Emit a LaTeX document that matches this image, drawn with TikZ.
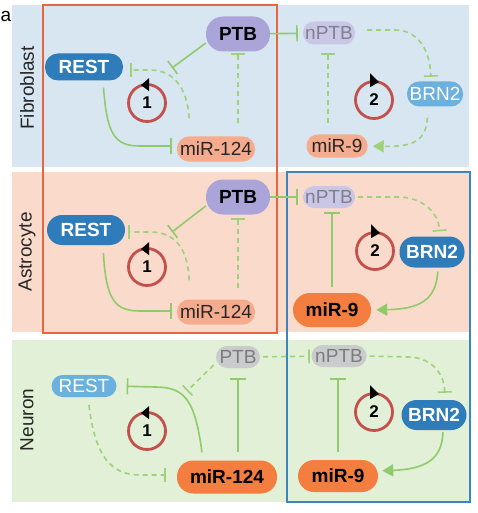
\documentclass[tikz,border=0pt]{standalone}
\usepackage{fontspec}
\setmainfont{Liberation Sans}
\usetikzlibrary{arrows.meta,calc}
\definecolor{bgBlue}{HTML}{D7E6F1}
\definecolor{bgPeach}{HTML}{FADACB}
\definecolor{bgGreen}{HTML}{E1F0D6}
\definecolor{lineGreen}{HTML}{8FCB6B}
\definecolor{dashGreen}{HTML}{9ED27A}
\definecolor{cDarkBlue}{HTML}{2E7DBA}
\definecolor{cLightBlue}{HTML}{6CB0DE}
\definecolor{cPurple}{HTML}{ABA4D9}
\definecolor{cLPurple}{HTML}{CAC6E6}
\definecolor{cSalmon}{HTML}{F5AC8E}
\definecolor{cOrange}{HTML}{F47D40}
\definecolor{cGray}{HTML}{C9CBCD}
\definecolor{cGrayText}{HTML}{807F90}
\definecolor{cGrayText2}{HTML}{7C7C7C}
\definecolor{cRed}{HTML}{C4504B}
\definecolor{orangeRect}{HTML}{E8663F}
\definecolor{blueRect}{HTML}{3D86BD}
\newcommand\genefont{\fontsize{19}{22}\selectfont}
\begin{document}
\begin{tikzpicture}[x=1pt,y=-1pt,
  gene/.style={rectangle, inner sep=0pt},
  sz/.style n args={3}{minimum width=#1pt, minimum height=#2pt, rounded corners=#3pt},
  darkB/.style={gene, fill=cDarkBlue, text=white, font=\genefont\bfseries},
  lightB/.style={gene, fill=cLightBlue, text=white, font=\genefont},
  purp/.style={gene, fill=cPurple, text=black, font=\genefont\bfseries},
  lpurp/.style={gene, fill=cLPurple, text=cGrayText, font=\genefont},
  salm/.style={gene, fill=cSalmon, text=black!85, font=\genefont},
  oran/.style={gene, fill=cOrange, text=black, font=\genefont\bfseries},
  grayn/.style={gene, fill=cGray, text=cGrayText2, font=\genefont},
  rowlab/.style={rotate=90, font=\fontsize{19}{22}\selectfont, text=black!85},
  cyc/.style={circle, draw=cRed, line width=2.8pt, minimum size=37pt, inner sep=0pt, font=\fontsize{17}{20}\selectfont\bfseries},
  inh/.style={draw=lineGreen, line width=1.6pt, -{Bar[width=16pt]}},
  dinh/.style={draw=dashGreen, line width=1.6pt, dash pattern=on 5pt off 4pt, -{Bar[width=14pt]}},
  act/.style={draw=lineGreen, line width=1.6pt, -{Triangle[length=11pt,width=12pt]}},
  dact/.style={draw=dashGreen, line width=1.6pt, dash pattern=on 5pt off 4pt, -{Triangle[length=11pt,width=12pt]}},
  tip/.style={fill=black}
]
\useasboundingbox (0,0) rectangle (477,513);
\fill[white] (0,0) rectangle (477,513);
% backgrounds
\fill[bgBlue] (12,5) rectangle (469,167);
\fill[bgPeach] (12,172) rectangle (469,332);
\fill[bgGreen] (12,340) rectangle (469,502);
\draw[orangeRect, line width=1.5pt] (43,5) rectangle (277,333);
\draw[blueRect, line width=1.5pt] (287,172) rectangle (470,502);
% labels
\node[font=\fontsize{19}{22}\selectfont, anchor=base west, inner sep=0pt] (pa) at (0.5,22) {a};
\node[rowlab] (lab1) at (27,88) {Fibroblast};
\node[rowlab] (lab2) at (27,252) {Astrocyte};
\node[rowlab] (lab3) at (27,420) {Neuron};

% ---------- Row 1: Fibroblast ----------
\node[darkB, sz={78}{27}{13}] (rest1) at (84,67) {REST};
\node[purp, sz={64}{35}{17}] (ptb1) at (238,34) {PTB};
\node[salm, sz={78}{25}{12}] (mir1) at (216,149) {miR-124};
\node[lpurp, sz={52}{23}{11}] (nptb1) at (329,33) {nPTB};
\node[lightB, sz={56}{25}{12}] (brn21) at (435,94) {BRN2};
\node[salm, sz={61}{23}{11}] (mir91) at (337,146) {miR-9};
\node[cyc] (c1a) at (147,103) {1};
\node[cyc] (c2a) at (374,100) {2};
\fill[tip] ($(c1a.north)+(-6,2)$) -- ($(c1a.north)+(2,-5)$) -- ($(c1a.north)+(2,8)$) -- cycle;
\fill[tip] ($(c2a.north)+(5,2)$) -- ($(c2a.north)+(-4,-7)$) -- ($(c2a.north)+(-4,7)$) -- cycle;
\coordinate (j1) at (172,68);
\draw[inh, shorten <=7pt, shorten >=5pt] ([xshift=19pt]rest1.south) .. controls (107,135) and (115,146) .. (140,146) -- ([yshift=3pt]mir1.west);
\draw[dinh, shorten <=18pt, shorten >=7pt] ([xshift=-26pt]mir1.north) .. controls (188,95) and (178,70) .. (150,70) -- ([yshift=-3pt]rest1.east);
\draw[inh] ([yshift=-9pt]ptb1.west) -- (j1);
\draw[dinh, shorten <=13pt, shorten >=1.5pt] (mir1.north -| ptb1.south) -- (ptb1.south);
\draw[inh, shorten >=5pt] (ptb1) -- (nptb1);
\draw[dinh, shorten <=12pt, shorten >=4.5pt] ([yshift=3pt]nptb1.east) -- (395,30) .. controls (418,30) and (430,50) .. ([xshift=-4pt]brn21.north);
\draw[dinh, shorten <=11pt, shorten >=8.5pt] ([xshift=-9pt]mir91.north) -- ([xshift=-1pt]nptb1.south);
\draw[dact, shorten <=11pt, shorten >=5pt] ([xshift=-7pt]brn21.south) .. controls (426,140) and (415,147) .. (mir91.east);

% ---------- Row 2: Astrocyte ----------
\node[darkB, sz={78}{30}{15}] (rest2) at (86,230) {REST};
\node[purp, sz={64}{35}{17}] (ptb2) at (238,197) {PTB};
\node[salm, sz={78}{25}{12}] (mir2) at (216,312) {miR-124};
\node[lpurp, sz={52}{22}{11}] (nptb2) at (329,197) {nPTB};
\node[darkB, sz={65}{31}{15}] (brn22) at (432,252) {BRN2};
\node[oran, sz={78}{34}{17}] (mir92) at (332,310) {miR-9};
\node[cyc] (c1b) at (147,267) {1};
\node[cyc] (c2b) at (375,251) {2};
\fill[tip] ($(c1b.north)+(-6,2)$) -- ($(c1b.north)+(2,-5)$) -- ($(c1b.north)+(2,8)$) -- cycle;
\fill[tip] ($(c2b.north)+(5,2)$) -- ($(c2b.north)+(-4,-7)$) -- ($(c2b.north)+(-4,7)$) -- cycle;
\coordinate (j2) at (172,232);
\draw[inh, shorten <=8pt, shorten >=5pt] ([xshift=17pt]rest2.south) .. controls (106,300) and (115,311) .. (140,311) -- ([yshift=1pt]mir2.west);
\draw[dinh, shorten <=19pt, shorten >=3pt] ([xshift=-26pt]mir2.north) .. controls (188,255) and (180,232) .. (150,232) -- ([yshift=-2pt]rest2.east);
\draw[inh] ([yshift=-9pt]ptb2.west) -- (j2);
\draw[dinh, shorten <=11.5pt, shorten >=3.5pt] (mir2.north -| ptb2.south) -- (ptb2.south);
\draw[inh, shorten >=5pt] (ptb2) -- (nptb2);
\draw[dinh, shorten <=3pt, shorten >=5pt] (nptb2.east) -- (398,197) .. controls (420,197) and (438,210) .. ([xshift=8pt]brn22.north);
\draw[inh, shorten <=6pt, shorten >=3.7pt] (mir92.north) -- (mir92.north |- nptb2.south);
\draw[act, shorten <=4pt, shorten >=5pt] ([xshift=6pt]brn22.south) .. controls (436,300) and (420,309) .. (mir92.east);

% ---------- Row 3: Neuron ----------
\node[lightB, sz={65}{22}{11}] (rest3) at (84,386) {REST};
\node[grayn, sz={44}{22}{11}] (ptb3) at (238,357) {PTB};
\node[oran, sz={100}{33}{16}] (mir3) at (227,477) {miR-124};
\node[grayn, sz={55}{22}{11}] (nptb3) at (339,356) {nPTB};
\node[darkB, sz={65}{30}{15}] (brn23) at (434,415) {BRN2};
\node[oran, sz={80}{32}{16}] (mir93) at (338,476) {miR-9};
\node[cyc] (c1c) at (147,431) {1};
\node[cyc] (c2c) at (374,412) {2};
\fill[tip] ($(c1c.north)+(-6,2)$) -- ($(c1c.north)+(2,-5)$) -- ($(c1c.north)+(2,8)$) -- cycle;
\fill[tip] ($(c2c.north)+(5,2)$) -- ($(c2c.north)+(-4,-7)$) -- ($(c2c.north)+(-4,7)$) -- cycle;
\coordinate (j3) at (187,391);
\draw[inh, shorten <=8pt, shorten >=10pt] ([xshift=-24pt]mir3.north) .. controls (195,400) and (185,387) .. (155,387) -- (rest3.east);
\draw[dinh, shorten <=8pt, shorten >=11pt] ([xshift=4pt]rest3.south) .. controls (95,455) and (110,475) .. (140,475) -- ([yshift=2pt]mir3.west);
\draw[dinh, shorten <=3pt] ([yshift=-6pt]ptb3.west) -- (j3);
\draw[inh, shorten <=8.5pt, shorten >=10pt] (mir3.north -| ptb3.south) -- (ptb3.south);
\draw[dinh, shorten <=3pt, shorten >=1.5pt] (ptb3) -- (nptb3);
\draw[dinh, shorten <=3pt, shorten >=7pt] (nptb3.east) -- (408,357) .. controls (428,357) and (444,370) .. ([xshift=11pt]brn23.north);
\draw[inh, shorten <=8pt, shorten >=11pt] (mir93.north) -- (mir93.north |- nptb3.south);
\draw[act, shorten <=2pt, shorten >=4pt] ([xshift=9pt]brn23.south) .. controls (442,460) and (425,469) .. ([yshift=5pt]mir93.east);
\end{tikzpicture}
\end{document}
